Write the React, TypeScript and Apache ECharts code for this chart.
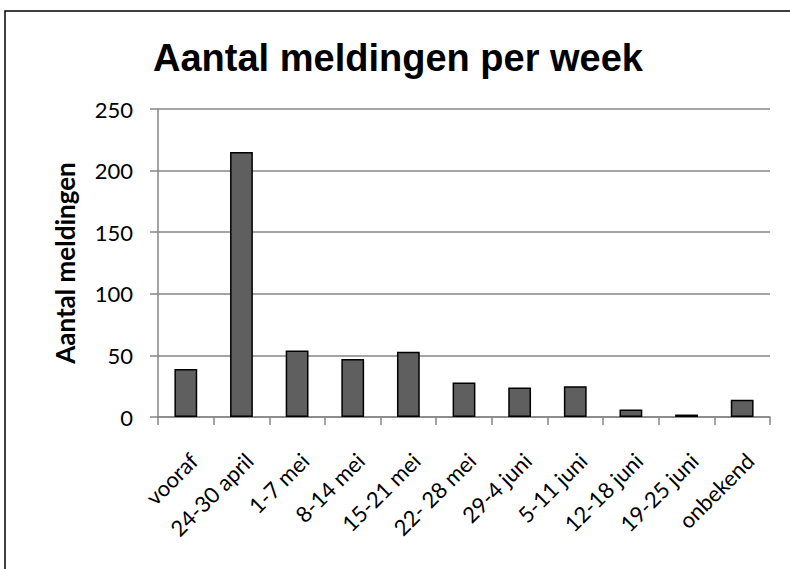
import React, { useEffect, useRef } from "react";
import * as echarts from "echarts";

const categories = [
  "vooraf",
  "24-30 april",
  "1-7 mei",
  "8-14 mei",
  "15-21 mei",
  "22- 28 mei",
  "29-4 juni",
  "5-11 juni",
  "12-18 juni",
  "19-25 juni",
  "onbekend",
];
const meldingen = [39, 215, 54, 47, 53, 28, 24, 25, 6, 2, 14];
const titleText = "Aantal meldingen per week";
const yAxisName = "Aantal meldingen";

export default function App() {
  const ref = useRef<HTMLDivElement>(null);
  useEffect(() => {
    if (!ref.current) return;
    const chart = echarts.init(ref.current, null, { renderer: "svg" });
    chart.setOption({
      animation: false,
      backgroundColor: "#ffffff",
      title: {
        text: titleText,
        left: 393,
        top: 34,
        textAlign: "center",
        textStyle: {
          fontFamily: "Liberation Sans",
          fontWeight: "bold",
          fontSize: 38,
          color: "#000000",
        },
      },
      graphic: [
        {
          type: "rect",
          shape: { x: 5, y: 11, width: 820, height: 620 },
          style: { fill: "none", stroke: "#000000", lineWidth: 1.5 },
          silent: true,
        },
      ],
      grid: { left: 158, right: 20, top: 109, bottom: 152 },
      xAxis: {
        type: "category",
        data: categories,
        axisLine: { show: true, lineStyle: { color: "#868686", width: 1.5 } },
        axisTick: {
          show: true,
          alignWithLabel: false,
          length: 8,
          lineStyle: { color: "#868686", width: 1.5 },
        },
        axisLabel: {
          rotate: 45,
          interval: 0,
          margin: 32,
          align: "right",
          verticalAlign: "top",
          fontFamily: "Lato",
          fontSize: 22,
          color: "#000000",
        },
      },
      yAxis: {
        type: "value",
        min: 0,
        max: 250,
        interval: 50,
        name: yAxisName,
        nameLocation: "middle",
        nameGap: 80,
        nameRotate: 90,
        nameTextStyle: {
          fontFamily: "Lato",
          fontWeight: "bold",
          fontSize: 26,
          color: "#000000",
        },
        axisLine: { show: true, lineStyle: { color: "#868686", width: 1.5 } },
        axisTick: { show: true, length: 8, lineStyle: { color: "#868686", width: 1.5 } },
        splitLine: { show: true, lineStyle: { color: "#868686", width: 1.5 } },
        axisLabel: {
          margin: 25,
          fontFamily: "Lato",
          fontSize: 22,
          color: "#000000",
        },
      },
      series: [
        {
          type: "bar",
          data: meldingen,
          barWidth: "41%",
          itemStyle: {
            color: "#5f5f5f",
            borderColor: "#000000",
            borderWidth: 1.5,
          },
        },
      ],
    });
    return () => chart.dispose();
  }, []);
  return <div ref={ref} style={{ width: 790, height: 569, position: "absolute", left: 0, top: 0 }} />;
}
